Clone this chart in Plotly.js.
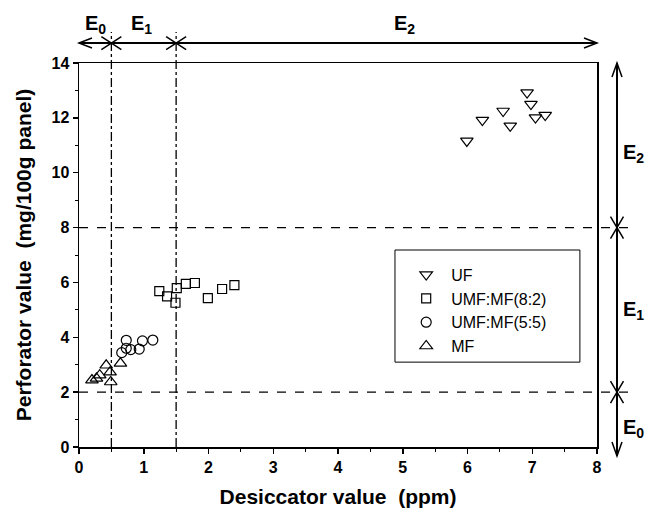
<!DOCTYPE html>
<html>
<head>
<meta charset="utf-8">
<script src="https://cdn.plot.ly/plotly-3.0.1.min.js"></script>
<style>html,body{margin:0;padding:0;background:#fff}#chart{width:645px;height:514px}</style>
</head>
<body>
<div id="chart"></div>
<script>
// Data
const seriesNames = ['UF', 'UMF:MF(8:2)', 'UMF:MF(5:5)', 'MF'];
const ufX = [5.99, 6.23, 6.55, 6.66, 6.92, 6.98, 7.05, 7.20];
const ufY = [11.16, 11.92, 12.25, 11.71, 12.92, 12.50, 12.01, 12.10];
const umf82X = [1.24, 1.36, 1.51, 1.49, 1.65, 1.79, 1.99, 2.21, 2.40];
const umf82Y = [5.68, 5.49, 5.79, 5.26, 5.95, 5.98, 5.43, 5.76, 5.90];
const umf55X = [0.73, 0.73, 0.66, 0.80, 0.93, 0.98, 1.14];
const umf55Y = [3.89, 3.60, 3.44, 3.55, 3.57, 3.87, 3.90];
const mfX = [0.20, 0.27, 0.32, 0.42, 0.48, 0.49, 0.64];
const mfY = [2.44, 2.50, 2.62, 2.98, 2.73, 2.37, 3.05];
const xBounds = [0.5, 1.5];   // E0/E1/E2 limits on desiccator value
const yBounds = [2, 8];       // E0/E1/E2 limits on perforator value
const zoneLabels = ['E<sub>0</sub>', 'E<sub>1</sub>', 'E<sub>2</sub>'];

const FONT = 'Arial, "Liberation Sans", sans-serif';
const mk = (sym, size) => ({symbol: sym, size: size, color: '#000', line: {color: '#000', width: 1.2}});

const traces = [
  {x: ufX, y: ufY, name: seriesNames[0], mode: 'markers', type: 'scatter', marker: mk('triangle-down-open', 11)},
  {x: umf82X, y: umf82Y, name: seriesNames[1], mode: 'markers', type: 'scatter', marker: mk('square-open', 9)},
  {x: umf55X, y: umf55Y, name: seriesNames[2], mode: 'markers', type: 'scatter', marker: mk('circle-open', 10)},
  {x: mfX, y: mfY, name: seriesNames[3], mode: 'markers', type: 'scatter', marker: mk('triangle-up-open', 11)}
];

const L = {color: '#000', width: 1.5};
const shapes = [];
// vertical dash-dot lines
xBounds.forEach(v => shapes.push({type: 'line', xref: 'x', yref: 'paper', x0: v, x1: v, y0: 0, y1: 1.081, line: {color: '#000', width: 1.3, dash: 'dashdot'}}));
// horizontal dashed lines
yBounds.forEach(v => shapes.push({type: 'line', xref: 'paper', yref: 'y', x0: 0, x1: 1.0695, y0: v, y1: v, line: {color: '#000', width: 1.3, dash: 'dash'}}));
// top double arrow
const topY = 1.052;
shapes.push({type: 'line', xref: 'paper', yref: 'paper', x0: 0, x1: 1, y0: topY, y1: topY, line: {color: '#000', width: 2}});
shapes.push({type: 'path', xref: 'paper', yref: 'paper', xsizemode: 'pixel', ysizemode: 'pixel', xanchor: 0, yanchor: topY, path: 'M13,5L0,0L13,-5', line: L});
shapes.push({type: 'path', xref: 'paper', yref: 'paper', xsizemode: 'pixel', ysizemode: 'pixel', xanchor: 1, yanchor: topY, path: 'M-13,5L0,0L-13,-5', line: L});
xBounds.forEach(v => shapes.push({type: 'path', xref: 'x', yref: 'paper', xsizemode: 'pixel', ysizemode: 'pixel', xanchor: v, yanchor: topY, path: 'M-10,-6.5L10,6.5M-10,6.5L10,-6.5', line: L}));
// right double arrow
const rX = 1.0386, botY = -0.0234;
shapes.push({type: 'line', xref: 'paper', yref: 'paper', x0: rX, x1: rX, y0: botY, y1: 1, line: {color: '#000', width: 2}});
shapes.push({type: 'path', xref: 'paper', yref: 'paper', xsizemode: 'pixel', ysizemode: 'pixel', xanchor: rX, yanchor: 1, path: 'M-5,-14L0,0L5,-14', line: L});
shapes.push({type: 'path', xref: 'paper', yref: 'paper', xsizemode: 'pixel', ysizemode: 'pixel', xanchor: rX, yanchor: botY, path: 'M-5,14L0,0L5,14', line: L});
yBounds.forEach(v => shapes.push({type: 'path', xref: 'paper', yref: 'y', xsizemode: 'pixel', ysizemode: 'pixel', xanchor: rX, yanchor: v, path: 'M-6.5,-11L6.5,11M-6.5,11L6.5,-11', line: L}));
// legend box
shapes.push({type: 'rect', xref: 'paper', yref: 'paper', x0: 0.610, x1: 0.967, y0: 0.221, y1: 0.513, line: {color: '#000', width: 1}, fillcolor: 'rgba(0,0,0,0)'});

const annFont = {family: FONT, size: 20, color: '#000', weight: 'bold'};
const annotations = [];
const topX = [0.25, 0.97, 5.03];
topX.forEach((x, i) => annotations.push({xref: 'x', yref: 'paper', x: x, y: 1.099, text: zoneLabels[i], showarrow: false, font: annFont, xanchor: 'center', yanchor: 'middle'}));
const rightY = [0.69, 4.98, 10.7];
rightY.forEach((y, i) => annotations.push({xref: 'paper', yref: 'y', x: 1.046, y: y, text: zoneLabels[i], showarrow: false, font: annFont, xanchor: 'left', yanchor: 'middle'}));

const axisCommon = {
  showgrid: false, zeroline: false, showline: true, linecolor: '#000', linewidth: 1.5, mirror: true,
  ticks: 'outside', ticklen: 5, tickwidth: 1.5, tickcolor: '#000',
  tickfont: {family: FONT, size: 16, color: '#000', weight: 'bold'}
};

const layout = {
  width: 645, height: 514, autosize: false,
  margin: {l: 79, r: 48, t: 63, b: 67},
  paper_bgcolor: '#fff', plot_bgcolor: '#fff',
  font: {family: FONT, color: '#000'},
  showlegend: true,
  legend: {x: 0.622, y: 0.493, xanchor: 'left', yanchor: 'top', bgcolor: 'rgba(0,0,0,0)', borderwidth: 0,
           font: {family: FONT, size: 16, color: '#000'}, itemwidth: 40, tracegroupgap: 0},
  xaxis: Object.assign({}, axisCommon, {range: [0, 8], dtick: 1, tick0: 0,
    minor: {dtick: 0.5, ticks: 'outside', ticklen: 3, tickwidth: 1, tickcolor: '#000'},
    title: {text: 'Desiccator value\u00a0 (ppm)', font: {family: FONT, size: 21, color: '#000', weight: 'bold'}, standoff: 14}}),
  yaxis: Object.assign({}, axisCommon, {range: [0, 14], dtick: 2, tick0: 0,
    minor: {dtick: 1, ticks: 'outside', ticklen: 3, tickwidth: 1, tickcolor: '#000'},
    title: {text: 'Perforator value\u00a0 (mg/100g panel)', font: {family: FONT, size: 21, color: '#000', weight: 'bold'}, standoff: 14}}),
  shapes: shapes,
  annotations: annotations
};

Plotly.newPlot('chart', traces, layout, {displayModeBar: false, staticPlot: true});
</script>
</body>
</html>
